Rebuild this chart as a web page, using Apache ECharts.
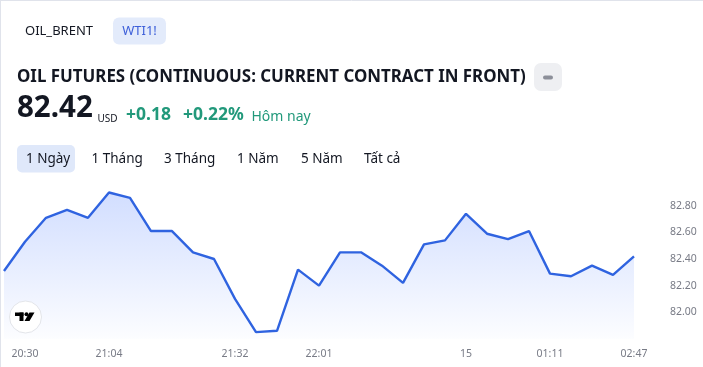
<!DOCTYPE html>
<html>
<head>
<meta charset="utf-8">
<script src="https://cdn.jsdelivr.net/npm/echarts@6/dist/echarts.min.js"></script>
<style>
html,body{margin:0;padding:0;background:#fff;}
#chart{width:703px;height:367px;}
</style>
</head>
<body>
<div id="chart"></div>
<script>
// ---- data ----
var timeLabels = ['', '20:30', '', '', '', '21:04', '', '', '', '', '', '21:32', '', '', '', '22:01', '', '', '', '', '', '', '15', '', '', '', '01:11', '', '', '', '02:47'];
var prices = [82.31, 82.53, 82.71, 82.77, 82.71, 82.90, 82.86, 82.61, 82.61, 82.45, 82.40, 82.10, 81.85, 81.86, 82.32, 82.20, 82.45, 82.45, 82.35, 82.22, 82.51, 82.54, 82.74, 82.59, 82.55, 82.61, 82.29, 82.27, 82.35, 82.28, 82.42];
var symbols = ['OIL_BRENT', 'WTI1!'];
var titleText = 'OIL FUTURES (CONTINUOUS: CURRENT CONTRACT IN FRONT)';
var lastPrice = '82.42';
var currency = 'USD';
var change = '+0.18';
var changePct = '+0.22%';
var changeNote = 'Hôm nay';
var ranges = ['1 Ngày', '1 Tháng', '3 Tháng', '1 Năm', '5 Năm', 'Tất cả'];

var FONT = '"Noto Sans", "Open Sans", sans-serif';
var DARK = '#131722';
var GREEN = '#22997b';
var GREY = '#787b86';

var chart = echarts.init(document.getElementById('chart'), null, {renderer: 'canvas'});

var rangeX = [26, 91.5, 164, 237, 301, 364];
var graphics = [
  // page border
  {type: 'line', shape: {x1: 0.5, y1: 0, x2: 0.5, y2: 367}, style: {stroke: '#e0e3eb', lineWidth: 1}},
  {type: 'line', shape: {x1: 0, y1: 0.5, x2: 703, y2: 0.5}, style: {stroke: '#e0e3eb', lineWidth: 1}},
  // symbol tabs
  {type: 'text', x: 25, y: 31, style: {text: symbols[0], font: '13px ' + FONT, fill: DARK, textVerticalAlign: 'middle'}},
  {type: 'rect', shape: {x: 113, y: 17.5, width: 53, height: 27, r: 6}, style: {fill: '#e3ebfb'}},
  {type: 'text', x: 139.5, y: 31, style: {text: symbols[1], font: '13px ' + FONT, fill: '#3d5fd9', textAlign: 'center', textVerticalAlign: 'middle'}},
  // title
  {type: 'text', x: 17, y: 77, style: {text: titleText, font: 'bold 16.9px ' + FONT, fill: DARK, textVerticalAlign: 'middle'}},
  {type: 'rect', shape: {x: 534, y: 63, width: 28, height: 28, r: 7}, style: {fill: '#eeeff2'}},
  {type: 'rect', shape: {x: 543, y: 75.5, width: 10, height: 4, r: 2}, style: {fill: '#8c8f99'}},
  // price row
  {type: 'text', x: 17, y: 124, style: {text: lastPrice, font: 'bold 29.5px ' + FONT, fill: DARK, textVerticalAlign: 'bottom'}},
  {type: 'text', x: 97.5, y: 124, style: {text: currency, font: '10px ' + FONT, fill: DARK, textVerticalAlign: 'bottom'}},
  {type: 'text', x: 126, y: 124, style: {text: change, font: 'bold 17.5px ' + FONT, fill: GREEN, textVerticalAlign: 'bottom'}},
  {type: 'text', x: 183, y: 124, style: {text: changePct, font: 'bold 17.5px ' + FONT, fill: GREEN, textVerticalAlign: 'bottom'}},
  {type: 'text', x: 251.5, y: 124, style: {text: changeNote, font: '14px ' + FONT, fill: GREEN, textVerticalAlign: 'bottom'}},
  // range tabs
  {type: 'rect', shape: {x: 17, y: 145, width: 58, height: 27.5, r: 5}, style: {fill: '#dfe8fa'}}
];
ranges.forEach(function (r, i) {
  graphics.push({type: 'text', x: rangeX[i], y: 159, style: {text: r, font: '13.5px ' + FONT, fill: DARK, textVerticalAlign: 'middle'}});
});
// TradingView logo badge
graphics.push(
  {type: 'circle', shape: {cx: 25.5, cy: 317, r: 16}, style: {fill: '#ffffff', stroke: '#e3e5ea', lineWidth: 1}, z: 10},
  {type: 'rect', shape: {x: 15, y: 312.5, width: 8.5, height: 3.5}, style: {fill: '#000'}, z: 11},
  {type: 'rect', shape: {x: 19.5, y: 312.5, width: 4, height: 8.5}, style: {fill: '#000'}, z: 11},
  {type: 'circle', shape: {cx: 26.5, cy: 314.3, r: 2}, style: {fill: '#000'}, z: 11},
  {type: 'polygon', shape: {points: [[29.5, 312.5], [34.5, 312.5], [29.5, 321], [24.5, 321]]}, style: {fill: '#000'}, z: 11}
);

var option = {
  animation: false,
  backgroundColor: '#ffffff',
  grid: {left: 4, right: 69, top: 179.2, bottom: 28.2, containLabel: false},
  xAxis: {
    type: 'category',
    data: timeLabels,
    boundaryGap: false,
    axisLine: {show: false},
    axisTick: {show: false},
    splitLine: {show: false},
    axisLabel: {
      interval: function (idx, val) { return val !== ''; },
      color: GREY,
      fontSize: 10.5,
      fontFamily: FONT,
      margin: 10,
      align: 'center'
    }
  },
  yAxis: {
    type: 'value',
    position: 'right',
    min: 81.8,
    max: 83.0,
    interval: 0.2,
    axisLine: {show: false},
    axisTick: {show: false},
    splitLine: {show: false},
    axisLabel: {
      color: GREY,
      fontSize: 10.5,
      fontFamily: FONT,
      margin: 36,
      align: 'left',
      formatter: function (v) { return (v > 81.9 && v < 82.9) ? v.toFixed(2) : ''; }
    }
  },
  series: [{
    type: 'line',
    data: prices,
    symbol: 'none',
    lineStyle: {color: '#2f63e0', width: 2.4},
    areaStyle: {
      color: new echarts.graphic.LinearGradient(0, 0, 0, 1, [
        {offset: 0, color: 'rgba(41,98,255,0.30)'},
        {offset: 1, color: 'rgba(41,98,255,0.02)'}
      ])
    }
  }],
  graphic: graphics
};
chart.setOption(option);
</script>
</body>
</html>
